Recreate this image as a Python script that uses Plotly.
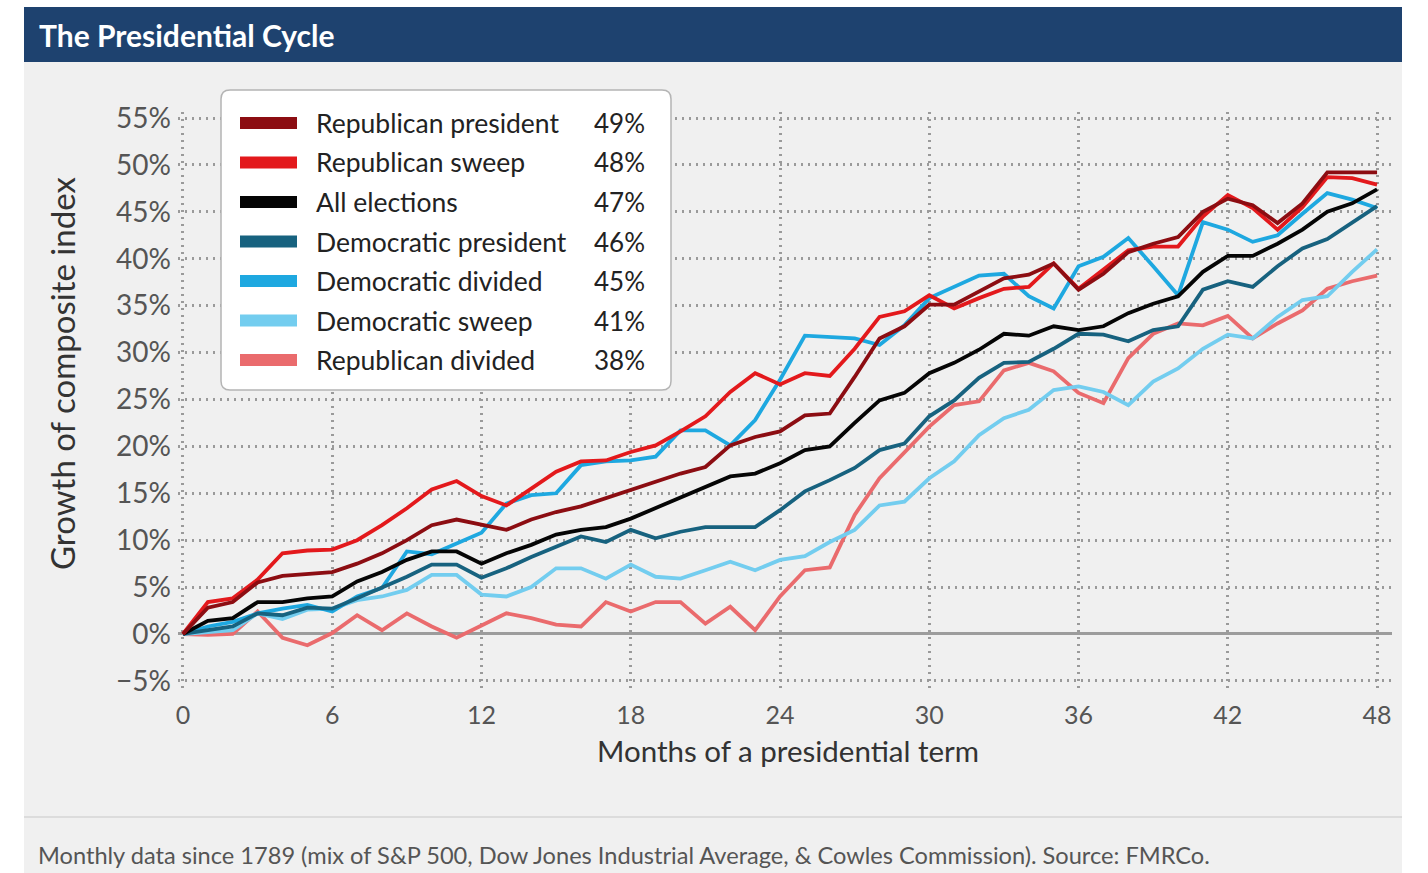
import plotly.graph_objects as go

months = list(range(49))

rep_president = [0, 2.8, 3.4, 5.5, 6.2, 6.4, 6.6, 7.5, 8.6, 10.0, 11.6, 12.2, 11.6, 11.1, 12.2, 13.0, 13.6,
                 14.5, 15.3, 16.2, 17.1, 17.8, 20.1, 21.0, 21.6, 23.3, 23.5, 27.4, 31.5, 32.8, 35.1, 35.1,
                 36.5, 37.9, 38.3, 39.5, 36.7, 38.4, 40.7, 41.6, 42.3, 45.0, 46.4, 45.7, 43.8, 45.9, 49.2,
                 49.2, 49.2]
rep_sweep = [0, 3.4, 3.8, 5.8, 8.6, 8.9, 9.0, 10.0, 11.6, 13.4, 15.4, 16.3, 14.7, 13.7, 15.5, 17.3, 18.4,
             18.5, 19.4, 20.1, 21.6, 23.2, 25.8, 27.8, 26.6, 27.8, 27.5, 30.4, 33.8, 34.4, 36.1, 34.7,
             35.8, 36.8, 37.0, 39.5, 36.8, 38.8, 40.9, 41.3, 41.3, 44.5, 46.8, 45.4, 43.1, 45.5, 48.7,
             48.6, 47.9]
all_elections = [0, 1.4, 1.7, 3.4, 3.4, 3.8, 4.0, 5.6, 6.6, 7.9, 8.8, 8.8, 7.5, 8.6, 9.5, 10.6, 11.1,
                 11.4, 12.3, 13.4, 14.6, 15.7, 16.8, 17.1, 18.2, 19.6, 20.0, 22.5, 24.9, 25.7, 27.8, 28.9,
                 30.3, 32.0, 31.8, 32.8, 32.4, 32.8, 34.2, 35.2, 36.0, 38.6, 40.3, 40.3, 41.6, 43.1, 45.0,
                 45.9, 47.4]
dem_president = [0, 0.4, 0.8, 2.2, 2.0, 2.8, 2.7, 3.8, 4.9, 6.1, 7.4, 7.4, 6.0, 7.0, 8.2, 9.3, 10.4,
                 9.8, 11.1, 10.2, 10.9, 11.4, 11.4, 11.4, 13.2, 15.2, 16.4, 17.7, 19.6, 20.3, 23.2, 24.9,
                 27.3, 28.9, 29.0, 30.4, 32.0, 31.9, 31.2, 32.4, 32.8, 36.7, 37.6, 37.0, 39.2, 41.1, 42.1,
                 43.8, 45.6]
dem_divided = [0, 0.8, 1.3, 2.2, 2.7, 3.1, 2.4, 4.0, 4.9, 8.8, 8.5, 9.7, 10.8, 13.9, 14.8, 15.0, 18.0,
               18.4, 18.5, 18.9, 21.7, 21.7, 20.1, 22.8, 27.1, 31.8, 31.7, 31.5, 30.8, 32.9, 35.8, 37.0,
               38.2, 38.4, 36.0, 34.7, 39.2, 40.2, 42.2, 39.2, 36.1, 43.9, 43.1, 41.8, 42.5, 44.8, 47.0,
               46.3, 45.4]
dem_sweep = [0, 0.2, 0.4, 2.2, 1.6, 2.6, 2.7, 3.6, 4.0, 4.7, 6.3, 6.3, 4.2, 4.0, 5.0, 7.0, 7.0,
             5.9, 7.4, 6.1, 5.9, 6.8, 7.7, 6.8, 7.9, 8.3, 9.8, 11.1, 13.7, 14.1, 16.6, 18.4,
             21.2, 23.0, 23.9, 26.0, 26.4, 25.8, 24.4, 26.9, 28.3, 30.4, 31.9, 31.5, 33.8, 35.6, 36.0,
             38.6, 41.0]
rep_divided = [0, -0.1, 0.0, 2.4, -0.4, -1.2, 0.1, 2.0, 0.4, 2.2, 0.8, -0.4, 0.9, 2.2, 1.7, 1.0, 0.8,
               3.4, 2.4, 3.4, 3.4, 1.1, 2.9, 0.4, 4.0, 6.8, 7.1, 12.7, 16.6, 19.3, 22.1, 24.4,
               24.8, 28.1, 28.9, 28.0, 25.7, 24.6, 29.4, 32.0, 33.1, 32.9, 33.9, 31.5, 33.1, 34.5, 36.8,
               37.6, 38.2]

series_names = ["Republican president", "Republican sweep", "All elections", "Democratic president",
                "Democratic divided", "Democratic sweep", "Republican divided"]
series_values = [rep_president, rep_sweep, all_elections, dem_president, dem_divided, dem_sweep, rep_divided]
series_colors = ["#8c0d12", "#e3191c", "#050505", "#17627f", "#1ea8e0", "#73cdef", "#ea6b6d"]
series_pct = ["49%", "48%", "47%", "46%", "45%", "41%", "38%"]

y_ticks = [-5, 0, 5, 10, 15, 20, 25, 30, 35, 40, 45, 50, 55]
y_ticktext = ["\u22125%", "0%", "5%", "10%", "15%", "20%", "25%", "30%", "35%", "40%", "45%", "50%", "55%"]
x_ticks = [0, 6, 12, 18, 24, 30, 36, 42, 48]

title_text = "The Presidential Cycle"
x_title = "Months of a presidential term"
y_title = "Growth of composite index"
caption = "Monthly data since 1789 (mix of S&P 500, Dow Jones Industrial Average, & Cowles Commission). Source: FMRCo."

W, H = 1428, 873
L, R, T, B = 178, 1392, 112, 690
FONT = "Lato"


def px(x):
    return (x - L) / (R - L)


def py(y):
    return (B - y) / (B - T)


fig = go.Figure()
for name, vals, col in reversed(list(zip(series_names, series_values, series_colors))):
    fig.add_trace(go.Scatter(x=months, y=vals, mode="lines", name=name,
                             line=dict(color=col, width=3.8), showlegend=False))

shapes = []
shapes.append(dict(type="rect", xref="paper", yref="paper", x0=px(24), x1=px(1402), y0=py(873), y1=py(62),
                   fillcolor="#f0f0f0", line=dict(width=0), layer="below"))
shapes.append(dict(type="rect", xref="paper", yref="paper", x0=px(24), x1=px(1402), y0=py(62), y1=py(7),
                   fillcolor="#1e426f", line=dict(width=0), layer="below"))
shapes.append(dict(type="line", xref="paper", yref="paper", x0=px(24), x1=px(1402), y0=py(817), y1=py(817),
                   line=dict(color="#d6d6d6", width=1.5), layer="below"))

bx0, bx1, by0, by1, r = 221, 671, 90, 390, 9
path = (f"M {px(bx0 + r)},{py(by0)} L {px(bx1 - r)},{py(by0)} Q {px(bx1)},{py(by0)} {px(bx1)},{py(by0 + r)} "
        f"L {px(bx1)},{py(by1 - r)} Q {px(bx1)},{py(by1)} {px(bx1 - r)},{py(by1)} "
        f"L {px(bx0 + r)},{py(by1)} Q {px(bx0)},{py(by1)} {px(bx0)},{py(by1 - r)} "
        f"L {px(bx0)},{py(by0 + r)} Q {px(bx0)},{py(by0)} {px(bx0 + r)},{py(by0)} Z")
shapes.append(dict(type="path", xref="paper", yref="paper", path=path, fillcolor="white",
                   line=dict(color="#b4b4b4", width=1.5), layer="above"))

annotations = []
row_y = [123, 162.5, 202, 241.5, 281, 320.5, 360]
for i, (name, col, pct) in enumerate(zip(series_names, series_colors, series_pct)):
    yc = row_y[i]
    shapes.append(dict(type="rect", xref="paper", yref="paper", x0=px(240), x1=px(297),
                       y0=py(yc + 6), y1=py(yc - 6), fillcolor=col, line=dict(width=0), layer="above"))
    annotations.append(dict(xref="paper", yref="paper", x=px(314), y=py(yc), text=name, showarrow=False,
                            xanchor="left", yanchor="middle", font=dict(family=FONT, size=26.5, color="#222")))
    annotations.append(dict(xref="paper", yref="paper", x=px(647), y=py(yc), text=pct, showarrow=False,
                            xanchor="right", yanchor="middle", font=dict(family=FONT, size=26, color="#222")))

annotations.append(dict(xref="paper", yref="paper", x=px(37), y=py(35), text="<b>" + title_text + "</b>",
                        showarrow=False, xanchor="left", yanchor="middle",
                        font=dict(family=FONT, size=30, color="white")))
annotations.append(dict(xref="paper", yref="paper", x=px(788), y=py(750), text=x_title, showarrow=False,
                        xanchor="center", yanchor="middle", font=dict(family=FONT, size=29.5, color="#333")))
annotations.append(dict(xref="paper", yref="paper", x=px(62), y=py(374), text=y_title, showarrow=False,
                        textangle=-90, xanchor="center", yanchor="middle",
                        font=dict(family=FONT, size=33, color="#333")))
annotations.append(dict(xref="paper", yref="paper", x=px(36), y=py(855), text=caption, showarrow=False,
                        xanchor="left", yanchor="middle", font=dict(family=FONT, size=23.6, color="#555")))

fig.update_layout(
    width=W, height=H,
    margin=dict(l=L, r=W - R, t=T, b=H - B, pad=0),
    paper_bgcolor="white", plot_bgcolor="#f0f0f0",
    shapes=shapes, annotations=annotations,
    showlegend=False,
)
fig.update_xaxes(range=[-0.2, 48.6], tickvals=x_ticks, showgrid=True, gridcolor="#9a9a9a",
                 griddash="2px,5px", gridwidth=2.5, zeroline=False, showline=False, ticks="",
                 tickfont=dict(family=FONT, size=25, color="#555"), ticklabelstandoff=8)
fig.update_yaxes(range=[-5.97, 55.64], tickvals=y_ticks, ticktext=y_ticktext, showgrid=True,
                 gridcolor="#9a9a9a", griddash="2px,5px", gridwidth=2.5, zeroline=True, zerolinecolor="#9c9c9c",
                 zerolinewidth=3, showline=False, ticks="",
                 tickfont=dict(family=FONT, size=28, color="#555"), ticklabelstandoff=6)

fig.write_html("out.html", config={"displayModeBar": False},
               post_script="document.body.style.margin='0';document.body.style.overflow='hidden';")
